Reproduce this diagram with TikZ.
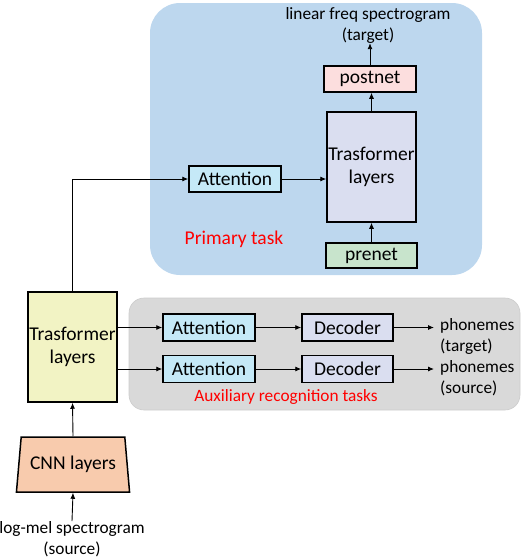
\documentclass[tikz,border=0pt]{standalone}
\usepackage{fontspec}
\setmainfont{Carlito}
\usetikzlibrary{arrows.meta,shapes.geometric}
\definecolor{regblue}{RGB}{189,215,238}
\definecolor{reggray}{RGB}{217,217,217}
\definecolor{attcol}{RGB}{197,233,247}
\definecolor{lavcol}{RGB}{218,222,240}
\definecolor{yelcol}{RGB}{242,243,196}
\definecolor{cnncol}{RGB}{248,203,173}
\definecolor{postcol}{RGB}{252,222,222}
\definecolor{precol}{RGB}{200,228,204}
\tikzset{
  blk/.style={draw=black, line width=1.5pt, inner sep=0pt, font=\fontsize{19.5}{23}\selectfont, align=center},
  lbl/.style={inner sep=0pt, font=\fontsize{17.3}{21}\selectfont, align=center},
  redlbl/.style={inner sep=0pt, text=red},
  arr/.style={draw=black, line width=0.9pt, -{Latex[length=6pt,width=5pt]}},
}
\begin{document}
\begin{tikzpicture}[x=1pt,y=-1pt]
\useasboundingbox (0,0) rectangle (522,558);
% regions
\fill[regblue] (150,3) [rounded corners=30pt] rectangle (482,275);
\filldraw[fill=reggray, draw=gray!40, line width=0.6pt, rounded corners=15pt] (129,298) rectangle (520,410);
% primary task
\node[blk, fill=attcol, minimum width=92pt, minimum height=26pt] (att0) at (235,179) {Attention};
\node[blk, fill=lavcol, minimum width=89pt, minimum height=110pt] (tr0) at (371.5,167) {Trasformer\\layers};
\node[blk, fill=postcol, minimum width=92pt, minimum height=26pt] (post) at (370,79) {postnet};
\node[blk, fill=precol, minimum width=91pt, minimum height=25pt] (pre) at (371.5,255.5) {prenet};
\node[lbl] (tgt) at (368,25) {linear freq spectrogram\\(target)};
\node[redlbl, font=\fontsize{19.5}{22}\selectfont] (prim) at (234,239) {Primary task};
% encoder
\node[blk, fill=yelcol, minimum width=89pt, minimum height=110pt] (tr1) at (72.5,347) {Trasformer\\layers};
\node[blk, fill=cnncol, trapezium, trapezium stretches=true, trapezium angle=76.7, minimum width=114pt, minimum height=55pt] (cnn) at (73,464.5) {CNN layers};
\node[lbl] (src) at (72,539) {log-mel spectrogram\\(source)};
% auxiliary
\node[blk, fill=attcol, minimum width=92pt, minimum height=27pt] (att1) at (209,327.5) {Attention};
\node[blk, fill=attcol, minimum width=92pt, minimum height=27pt] (att2) at (209,369) {Attention};
\node[blk, fill=lavcol, minimum width=91pt, minimum height=27pt] (dec1) at (347.5,327.5) {Decoder};
\node[blk, fill=lavcol, minimum width=91pt, minimum height=27pt] (dec2) at (347.5,369) {Decoder};
\node[lbl, anchor=west, align=left] (ph1) at (440,336.5) {phonemes\\(target)};
\node[lbl, anchor=west, align=left] (ph2) at (440,378.5) {phonemes\\(source)};
\node[redlbl, font=\fontsize{17.3}{21}\selectfont] (aux) at (286,397) {Auxiliary recognition tasks};
\coordinate (o1) at (434,327.5);
\coordinate (o2) at (434,369);
% connectors
\draw[arr] (src.north) -- (cnn.south);
\draw[arr] (cnn.north) -- (tr1.south);
\draw[arr] (tr1.north) |- (att0.west);
\draw[arr] (att0.east) -- (tr0.west |- att0.east);
\draw[arr] (pre.north) -- (pre.north |- tr0.south);
\draw[arr] (tr0.north) -- (post.south -| tr0.north);
\draw[arr] (post.north) -- (tgt.south -| post.north);
\draw[arr] (tr1.east |- att1.west) -- (att1.west);
\draw[arr] (tr1.east |- att2.west) -- (att2.west);
\draw[arr] (att1.east) -- (dec1.west);
\draw[arr] (att2.east) -- (dec2.west);
\draw[arr] (dec1.east) -- (o1);
\draw[arr] (dec2.east) -- (o2);
\end{tikzpicture}
\end{document}
